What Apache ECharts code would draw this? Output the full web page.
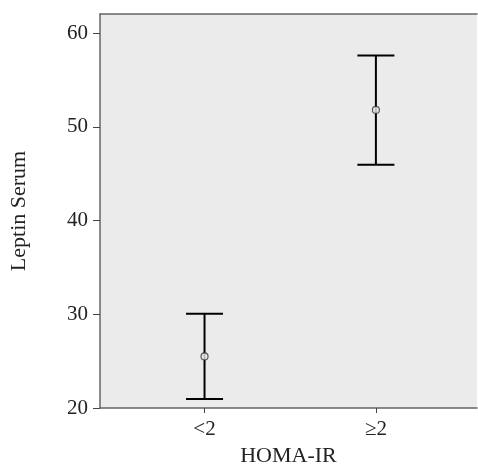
<!DOCTYPE html>
<html>
<head>
<meta charset="utf-8">
<script src="https://cdn.jsdelivr.net/npm/echarts@6/dist/echarts.min.js"></script>
<style>html,body{margin:0;padding:0;background:#fff;}#c{width:478px;height:472px;}</style>
</head>
<body>
<div id="c"></div>
<script>
const categories = ['<2', '\u22652'];
const positions = [1, 2];
const means = [25.5, 51.8];
const lowers = [20.95, 45.95];
const uppers = [30.05, 57.6];
const yTicks = [20, 30, 40, 50, 60];

const chart = echarts.init(document.getElementById('c'), null, {renderer: 'canvas'});
const font = '"Liberation Serif", "Times New Roman", serif';
const barData = positions.map((p, i) => [p, lowers[i], uppers[i]]);
const meanData = positions.map((p, i) => [p, means[i]]);

chart.setOption({
  animation: false,
  grid: {left: 97, top: 14, right: 1, bottom: 58, show: true, backgroundColor: '#EBEBEB', borderWidth: 0},
  xAxis: [{
    type: 'value', min: 0.39, max: 2.59,
    name: 'HOMA-IR', nameLocation: 'middle', nameGap: 37,
    nameTextStyle: {fontFamily: font, fontSize: 22, color: '#222'},
    axisLine: {show: true, lineStyle: {color: '#666', width: 1.5}},
    axisTick: {show: true, customValues: positions, length: 5, lineStyle: {color: '#444'}},
    axisLabel: {customValues: positions, fontFamily: font, fontSize: 21, color: '#222', margin: 11,
      formatter: v => categories[positions.indexOf(v)] || ''},
    splitLine: {show: false}
  }, {
    type: 'value', position: 'top', min: 0.39, max: 2.59,
    axisLine: {show: true, lineStyle: {color: '#666', width: 1.5}},
    axisTick: {show: false}, axisLabel: {show: false}, splitLine: {show: false}
  }],
  yAxis: {
    type: 'value', min: 20, max: 62.03, interval: 10,
    name: 'Leptin Serum', nameLocation: 'middle', nameGap: 70, nameRotate: 90,
    nameTextStyle: {fontFamily: font, fontSize: 22, color: '#222'},
    axisLine: {show: true, lineStyle: {color: '#666', width: 1.5}},
    axisTick: {show: true, customValues: yTicks, length: 7, lineStyle: {color: '#444'}},
    axisLabel: {customValues: yTicks, fontFamily: font, fontSize: 21, color: '#222', margin: 12,
      formatter: v => String(v)},
    splitLine: {show: false}
  },
  series: [{
    type: 'custom',
    data: barData,
    renderItem: function (params, api) {
      const x = api.value(0);
      const lo = api.coord([x, api.value(1)]);
      const hi = api.coord([x, api.value(2)]);
      const hw = 18.5;
      const style = {stroke: '#000', lineWidth: 2};
      return {type: 'group', children: [
        {type: 'line', shape: {x1: lo[0], y1: lo[1], x2: hi[0], y2: hi[1]}, style: style},
        {type: 'line', shape: {x1: hi[0] - hw, y1: hi[1], x2: hi[0] + hw, y2: hi[1]}, style: style},
        {type: 'line', shape: {x1: lo[0] - hw, y1: lo[1], x2: lo[0] + hw, y2: lo[1]}, style: style}
      ]};
    },
    z: 2
  }, {
    type: 'scatter',
    data: meanData,
    symbol: 'circle', symbolSize: 7,
    itemStyle: {color: '#EBEBEB', borderColor: '#333', borderWidth: 1.2},
    z: 3
  }]
});
</script>
</body>
</html>
